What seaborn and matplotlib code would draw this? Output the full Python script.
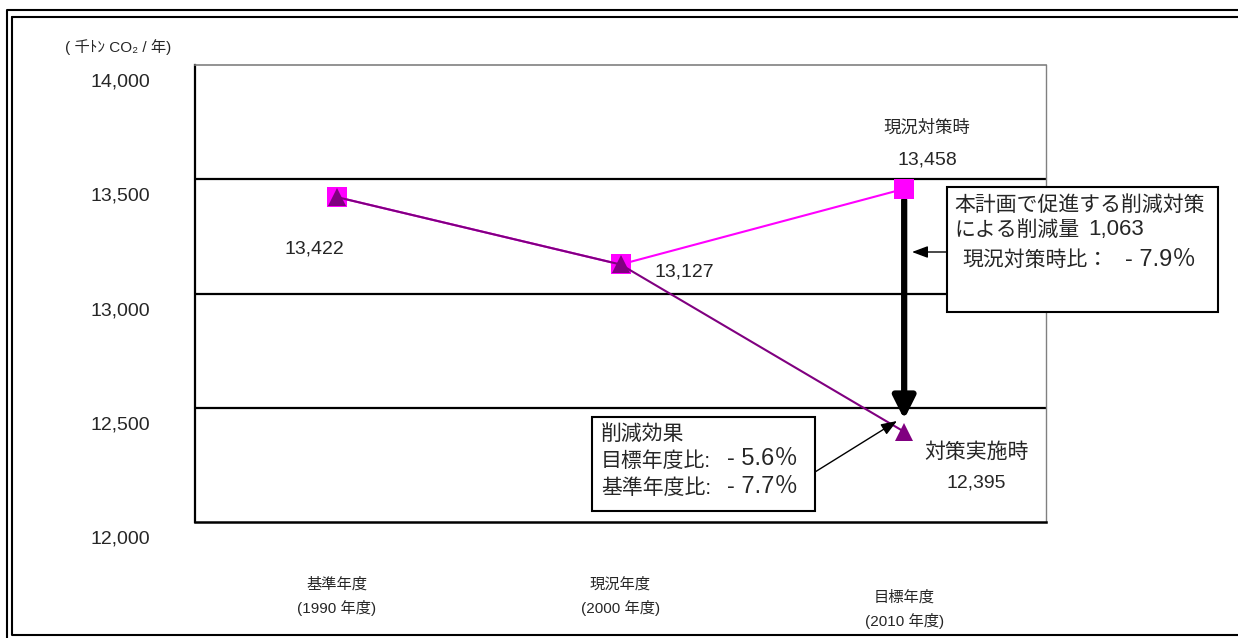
import matplotlib
matplotlib.use("Agg")
import matplotlib.pyplot as plt
import matplotlib.transforms as mtransforms
from matplotlib.lines import Line2D
from matplotlib.patches import Rectangle
from matplotlib.ticker import FuncFormatter, FixedLocator
import seaborn as sns
import pandas as pd

# ---- data -------------------------------------------------------------
categories = ["基準年度\n(1990 年度)", "現況年度\n(2000 年度)", "目標年度\n(2010 年度)"]
bau_values = [13422, 13127, 13458]      # 現況対策時
policy_values = [13422, 13127, 12395]   # 対策実施時
y_ticks = [12000, 12500, 13000, 13500, 14000]
reduction_amount = "1,063"
reduction_vs_bau = "- 7.9％"
effect_vs_target = "- 5.6％"
effect_vs_base = "- 7.7％"

sns.set_style("white")
FONT = ["Liberation Sans", "Noto Sans CJK JP", "DejaVu Sans"]
plt.rcParams["font.family"] = FONT

W, H = 1238, 638
fig = plt.figure(figsize=(W / 100, H / 100), dpi=100)


def fx(x):
    return x / W


def fy(y):
    return 1 - y / H


ax = fig.add_axes([fx(195), fy(522), fx(1046 - 195), (522 - 65) / H])

df = pd.DataFrame({
    "pos": list(range(len(categories))) * 2,
    "value": bau_values + policy_values,
    "series": ["現況対策時"] * 3 + ["対策実施時"] * 3,
})

sns.lineplot(data=df[df.series == "現況対策時"], x="pos", y="value",
             color="#FF00FF", marker="s", markersize=15, markeredgewidth=0,
             linewidth=1.5, ax=ax, zorder=3)
sns.lineplot(data=df[df.series == "対策実施時"], x="pos", y="value",
             color="#800080", marker="^", markersize=13, markeredgewidth=0,
             linewidth=1.5, ax=ax, zorder=4)

# ---- axes -------------------------------------------------------------
ax.set_xlim(-0.5, 2.5)
ax.set_ylim(y_ticks[0], y_ticks[-1])
ax.set_xlabel("")
ax.set_ylabel("")
ax.set_yticks(y_ticks)
ax.yaxis.set_major_formatter(FuncFormatter(lambda v, _: f"{v:,.0f}"))
ax.tick_params(axis="y", length=0, pad=32, labelsize=14)
for lab in ax.get_yticklabels():
    lab.set_transform(lab.get_transform() +
                      mtransforms.ScaledTranslation(0, -0.15, fig.dpi_scale_trans))

ax.set_xticks(range(len(categories)))
ax.set_xticklabels(categories, fontsize=11, linespacing=1.6)
ax.tick_params(axis="x", which="major", length=0, pad=40)
ax.xaxis.set_minor_locator(FixedLocator([0.5, 1.5]))
ax.tick_params(axis="x", which="minor", direction="in", length=4, width=1.5,
               color="black")
xl = ax.get_xticklabels()
xl[2].set_transform(xl[2].get_transform() +
                    mtransforms.ScaledTranslation(0, -0.13, fig.dpi_scale_trans))

for v in y_ticks[1:-1]:
    ax.axhline(v, color="black", lw=1.6, zorder=1)
ax.spines["left"].set_color("black")
ax.spines["left"].set_linewidth(1.6)
ax.spines["bottom"].set_color("black")
ax.spines["bottom"].set_linewidth(1.8)
ax.spines["top"].set_color("#808080")
ax.spines["top"].set_linewidth(1.2)
ax.spines["right"].set_color("#808080")
ax.spines["right"].set_linewidth(1.0)
ax.grid(False)

# ---- value labels -----------------------------------------------------
lbl = dict(textcoords="offset pixels", ha="center", va="center",
           fontsize=14, zorder=6)
ax.annotate(f"{policy_values[0]:,}", xy=(0, policy_values[0]), xytext=(-22, -52), **lbl)
ax.annotate(f"{policy_values[1]:,}", xy=(1, policy_values[1]), xytext=(34, -8),
            textcoords="offset pixels", ha="left", va="center", fontsize=14)
ax.annotate("現況対策時", xy=(2, bau_values[2]), xytext=(23, 61),
            textcoords="offset pixels", ha="center", va="center", fontsize=12.5)
ax.annotate(f"{bau_values[2]:,}", xy=(2, bau_values[2]), xytext=(23, 29), **lbl)
ax.annotate("対策実施時", xy=(2, policy_values[2]), xytext=(72, -20),
            textcoords="offset pixels", ha="center", va="center", fontsize=15)
ax.annotate(f"{policy_values[2]:,}", xy=(2, policy_values[2]), xytext=(72, -51), **lbl)

# reduction arrow from the baseline projection down to the policy case
ax.annotate("", xy=(2, policy_values[2]), xytext=(2, bau_values[2]),
            arrowprops=dict(arrowstyle="-|>,head_length=0.9,head_width=0.45",
                            mutation_scale=15, lw=4.5, color="black",
                            shrinkA=8, shrinkB=9),
            zorder=2)

# ---- callout boxes ----------------------------------------------------
def box(x0, y0, x1, y1):
    fig.add_artist(Rectangle((fx(x0), fy(y1)), fx(x1 - x0), (y1 - y0) / H,
                             transform=fig.transFigure, facecolor="white",
                             edgecolor="black", lw=1.5, zorder=2))


def ftext(x, y, s, size, ha="left"):
    fig.text(fx(x), fy(y), s, fontsize=size, ha=ha, va="center", zorder=3)


box(947, 187, 1218, 312)
ftext(954, 205, "本計画で促進する削減対策", 15)
ftext(954, 230, "による削減量", 15)
ftext(1088, 230, reduction_amount, 16)
ftext(962, 260, "現況対策時比：", 15)
ftext(1125, 260, reduction_vs_bau, 17)

box(592, 417, 815, 511)
ftext(601, 434, "削減効果", 15)
ftext(601, 461, "目標年度比:", 15)
ftext(727, 459, effect_vs_target, 17)
ftext(601, 488, "基準年度比:", 15)
ftext(727, 487, effect_vs_base, 17)

thin = dict(arrowstyle="-|>,head_length=0.8,head_width=0.3", mutation_scale=12,
            lw=1.0, color="black", shrinkA=0, shrinkB=0)
fig.add_artist(matplotlib.text.Annotation(
    "", xy=(fx(912), fy(252)), xytext=(fx(947), fy(252)),
    xycoords="figure fraction", textcoords="figure fraction", arrowprops=thin))
fig.add_artist(matplotlib.text.Annotation(
    "", xy=(fx(897), fy(421)), xytext=(fx(815), fy(472)),
    xycoords="figure fraction", textcoords="figure fraction", arrowprops=thin))

# ---- unit label -------------------------------------------------------
ftext(65, 47, "( 千ﾄﾝ CO₂ / 年)", 11)

# ---- double frame -----------------------------------------------------
for xs, ys in [([7, 7, W], [H, 10, 10]),
               ([12, 12, W], [17, H - 3, H - 3]),
               ([12, W], [17, 17])]:
    fig.add_artist(Line2D([fx(x) for x in xs], [fy(y) for y in ys],
                          transform=fig.transFigure, color="black", lw=1.5))

fig.savefig("out.png", dpi=100)
